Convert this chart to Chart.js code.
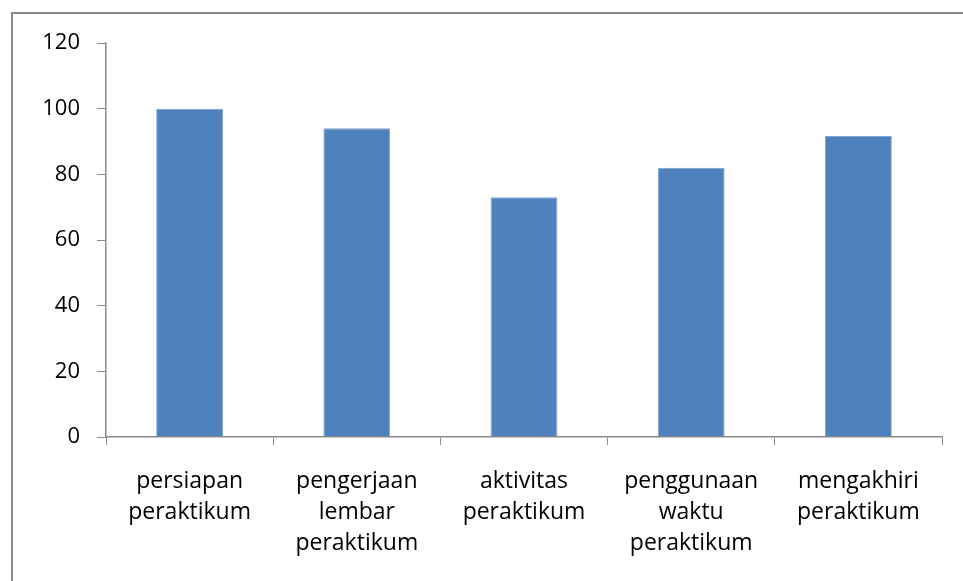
<!DOCTYPE html>
<html>
<head>
<meta charset="utf-8">
<script src="https://cdn.jsdelivr.net/npm/chart.js@4/dist/chart.umd.min.js"></script>
<style>
  html, body { margin: 0; padding: 0; background: #fff; }
  #wrap { position: relative; width: 963px; height: 581px; overflow: hidden; }
  #frame { position: absolute; left: 11px; top: 12px; width: 1000px; height: 600px;
           border-left: 2px solid #8a8a8a; border-top: 2px solid #8a8a8a; }
  canvas { position: absolute; left: 0; top: 0; }
</style>
</head>
<body>
<div id="wrap">
  <div id="frame"></div>
  <canvas id="chart" width="963" height="581"></canvas>
</div>
<script>
const categories = [
    ['persiapan', 'peraktikum'],
    ['pengerjaan', 'lembar', 'peraktikum'],
    ['aktivitas', 'peraktikum'],
    ['penggunaan', 'waktu', 'peraktikum'],
    ['mengakhiri', 'peraktikum']
];
const values = [100, 94, 73, 82, 91.7];
const yTicks = [0, 20, 40, 60, 80, 100, 120];

const axisColor = '#8c8c8c';
const xFont = { family: '"Open Sans", sans-serif', size: 23, lineHeight: 1.35 };
const yFont = { family: '"Open Sans", sans-serif', size: 22 };

document.addEventListener('DOMContentLoaded', () => {
    const ctx = document.getElementById('chart');
    new Chart(ctx, {
        type: 'bar',
        data: {
            labels: categories,
            datasets: [{
                data: values,
                backgroundColor: '#4f81bd',
                borderColor: '#7fa4d2',
                borderWidth: 1,
                categoryPercentage: 1,
                barPercentage: 0.4
            }]
        },
        options: {
            responsive: false,
            animation: false,
            layout: {
                padding: { left: 0, top: 43, right: 21, bottom: 0 }
            },
            plugins: {
                legend: { display: false },
                tooltip: { enabled: false }
            },
            scales: {
                x: {
                    grid: {
                        drawOnChartArea: false,
                        color: axisColor,
                        tickLength: 8
                    },
                    border: { color: axisColor, width: 1.5 },
                    ticks: {
                        color: '#000',
                        font: xFont,
                        padding: 21,
                        maxRotation: 0,
                        autoSkip: false
                    },
                    afterFit: (scale) => { scale.height = 581 - 437; }
                },
                y: {
                    min: 0,
                    max: 120,
                    afterBuildTicks: (scale) => {
                        scale.ticks = yTicks.map(v => ({ value: v }));
                    },
                    grid: {
                        drawOnChartArea: false,
                        color: axisColor,
                        tickLength: 9
                    },
                    border: { color: axisColor, width: 1.5 },
                    ticks: {
                        color: '#000',
                        font: yFont,
                        padding: 17
                    },
                    afterFit: (scale) => { scale.width = 106; }
                }
            }
        }
    });
});
</script>
</body>
</html>
